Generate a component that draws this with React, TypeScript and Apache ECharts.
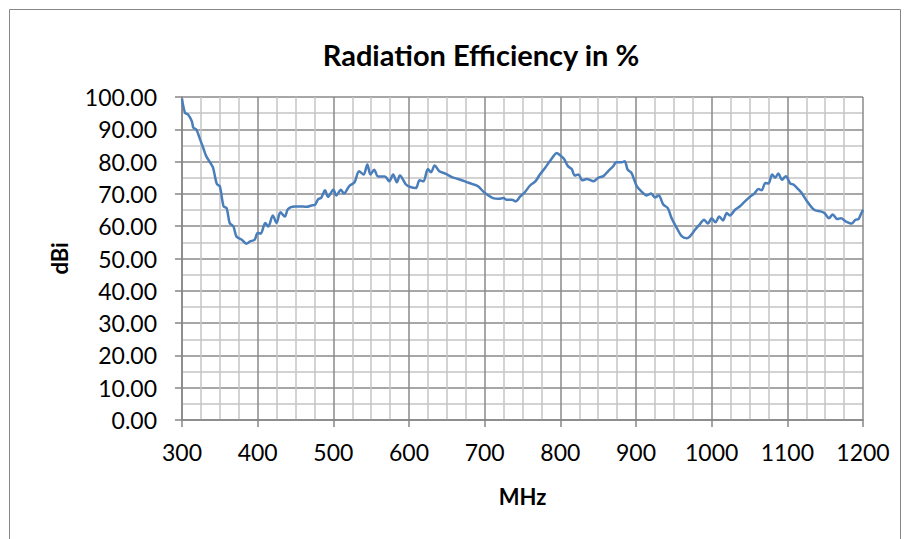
import React, { useEffect, useRef } from "react";
import * as echarts from "echarts";

const titleText = "Radiation Efficiency in %";
const xAxisName = "MHz";
const yAxisName = "dBi";

const frequencies = [
  300, 304, 308, 313, 315, 319, 324, 328, 332, 337, 341, 346, 350, 355, 359, 363, 368, 372, 379, 385,
  390, 396, 400, 404, 410, 414, 420, 425, 430, 436, 440, 449, 460, 465, 471, 476, 480, 484, 489, 493,
  500, 504, 510, 514, 521, 528, 534, 540, 545, 549, 554, 559, 568, 574, 579, 584, 588, 596, 601, 609,
  614, 619, 625, 629, 634, 640, 648, 656, 665, 674, 683, 691, 698, 705, 711, 718, 725, 729, 736, 741,
  747, 753, 760, 767, 773, 780, 786, 791, 795, 800, 805, 810, 815, 819, 824, 829, 835, 844, 850, 857,
  863, 870, 874, 881, 885, 889, 894, 901, 907, 914, 920, 925, 930, 936, 942, 947, 954, 960, 967, 971,
  978, 984, 990, 995, 1000, 1005, 1010, 1015, 1020, 1024, 1031, 1037, 1044, 1051, 1056, 1062, 1066, 1071, 1075, 1080,
  1084, 1088, 1093, 1098, 1104, 1108, 1115, 1119, 1126, 1133, 1137, 1144, 1149, 1155, 1160, 1166, 1171, 1177, 1185, 1190,
  1194, 1197, 1200,
];

const efficiency = [
  99.5, 95.1, 94.6, 92.5, 90.5, 89.9, 86.8, 84.3, 81.7, 79.8, 78.1, 73.1, 72.3, 66.1, 65.6, 61.0, 59.9, 56.8, 55.8, 54.6,
  55.3, 55.8, 57.9, 57.7, 61.0, 59.9, 63.3, 61.0, 64.3, 63.0, 65.3, 66.1, 66.1, 66.0, 66.4, 66.7, 68.4, 68.8, 71.1, 69.1,
  71.3, 69.5, 71.3, 70.1, 72.4, 73.6, 77.0, 76.0, 79.1, 76.0, 77.5, 75.4, 75.4, 73.9, 76.0, 73.6, 75.7, 72.9, 72.2, 71.8,
  74.2, 73.9, 77.7, 76.7, 78.8, 77.0, 76.3, 75.3, 74.6, 73.9, 73.1, 72.4, 70.8, 69.5, 68.7, 68.5, 68.7, 68.2, 68.2, 67.7,
  69.2, 70.5, 72.6, 73.9, 76.0, 78.1, 80.1, 81.7, 82.7, 81.9, 80.8, 78.6, 77.7, 75.7, 76.0, 74.2, 74.6, 73.9, 75.0, 75.5,
  77.0, 78.6, 79.8, 79.8, 80.1, 77.5, 76.5, 72.4, 70.8, 69.5, 70.1, 68.9, 69.5, 66.7, 65.6, 62.5, 59.4, 57.0, 56.3, 56.8,
  58.9, 60.5, 62.0, 60.8, 62.5, 61.2, 63.0, 61.8, 64.1, 63.3, 65.1, 66.1, 67.7, 69.2, 70.0, 71.5, 71.1, 73.4, 73.2, 76.0,
  75.0, 76.3, 74.4, 75.5, 73.2, 72.9, 71.3, 70.3, 67.7, 65.6, 64.9, 64.6, 64.1, 62.5, 63.6, 62.2, 62.5, 61.5, 60.8, 62.0,
  62.2, 63.6, 65.1,
];

const FONT = "Lato";

export default function App() {
  const ref = useRef<HTMLDivElement>(null);
  useEffect(() => {
    if (!ref.current) return;
    const chart = echarts.init(ref.current, undefined, { renderer: "svg" });
    const data = frequencies.map((f, i) => [f, efficiency[i]]);
    chart.setOption({
      animation: false,
      backgroundColor: "#ffffff",
      title: {
        text: titleText,
        left: 476,
        top: 35,
        textAlign: "center",
        textStyle: { fontFamily: FONT, fontWeight: "bold", fontSize: 29, color: "#000" },
      },
      graphic: [
        {
          type: "rect",
          shape: { x: 9.5, y: 9.5, width: 891, height: 560 },
          style: { fill: "none", stroke: "#868686", lineWidth: 1 },
          silent: true,
        },
      ],
      grid: { left: 182, top: 97, right: 45, bottom: 119, containLabel: false },
      xAxis: {
        type: "value",
        min: 300,
        max: 1200,
        interval: 100,
        name: xAxisName,
        nameLocation: "middle",
        nameGap: 65,
        nameTextStyle: { fontFamily: FONT, fontWeight: "bold", fontSize: 22, color: "#000" },
        axisLine: { show: true, lineStyle: { color: "#868686", width: 1.5 } },
        axisTick: { show: true, length: 7, lineStyle: { color: "#868686", width: 1.5 } },
        axisLabel: {
          fontFamily: FONT,
          fontSize: 23,
          color: "#000",
          margin: 20,
          formatter: (v: number) => String(v),
        },
        splitLine: { show: true, lineStyle: { color: "#8a8a8a", width: 1.5 } },
        minorTick: { show: true, splitNumber: 4, length: 0 },
        minorSplitLine: { show: true, lineStyle: { color: "#c4c4c4", width: 1.5 } },
      },
      yAxis: {
        type: "value",
        min: 0,
        max: 100,
        interval: 10,
        name: yAxisName,
        nameLocation: "middle",
        nameGap: 112,
        nameRotate: 90,
        nameTextStyle: { fontFamily: FONT, fontWeight: "bold", fontSize: 22, color: "#000" },
        axisLine: { show: true, lineStyle: { color: "#868686", width: 1.5 } },
        axisTick: { show: true, length: 7, lineStyle: { color: "#868686", width: 1.5 } },
        axisLabel: {
          fontFamily: FONT,
          fontSize: 23,
          color: "#000",
          margin: 25,
          formatter: (v: number) => v.toFixed(2),
        },
        splitLine: { show: true, lineStyle: { color: "#8a8a8a", width: 1.5 } },
        minorTick: { show: true, splitNumber: 2, length: 0 },
        minorSplitLine: { show: true, lineStyle: { color: "#c4c4c4", width: 1.5 } },
      },
      series: [
        {
          type: "line",
          data,
          showSymbol: false,
          symbol: "none",
          smooth: 0.3,
          lineStyle: { color: "#4a7ebb", width: 2.5 },
        },
      ],
    });
    return () => chart.dispose();
  }, []);
  return (
    <div
      ref={ref}
      style={{ position: "fixed", left: 0, top: 0, width: 908, height: 539 }}
    />
  );
}
